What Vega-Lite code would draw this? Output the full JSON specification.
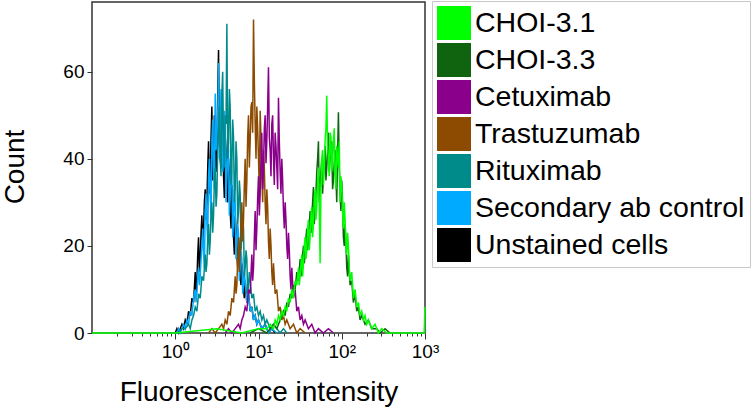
{
"$schema": "https://vega.github.io/schema/vega-lite/v6.json",
"width": 333, "height": 331,
"autosize": "none",
"padding": {"left": 92, "top": 2, "right": 331, "bottom": 77},
"background": "white",
"config": {"view": {"stroke": "#333333", "strokeWidth": 1.5}, "font": "Liberation Sans"},
"data": {"values": [
{"s":"Unstained cells","x":1.000,"y":0},{"s":"Unstained cells","x":1.047,"y":1},{"s":"Unstained cells","x":1.096,"y":0},{"s":"Unstained cells","x":1.148,"y":1},{"s":"Unstained cells","x":1.202,"y":2},{"s":"Unstained cells","x":1.259,"y":1},{"s":"Unstained cells","x":1.318,"y":3},{"s":"Unstained cells","x":1.380,"y":2},{"s":"Unstained cells","x":1.445,"y":5},{"s":"Unstained cells","x":1.514,"y":4},{"s":"Unstained cells","x":1.585,"y":8},{"s":"Unstained cells","x":1.660,"y":7},{"s":"Unstained cells","x":1.738,"y":14},{"s":"Unstained cells","x":1.820,"y":12},{"s":"Unstained cells","x":1.905,"y":22},{"s":"Unstained cells","x":1.995,"y":17},{"s":"Unstained cells","x":2.089,"y":27},{"s":"Unstained cells","x":2.188,"y":24},{"s":"Unstained cells","x":2.291,"y":33},{"s":"Unstained cells","x":2.399,"y":30},{"s":"Unstained cells","x":2.512,"y":44},{"s":"Unstained cells","x":2.630,"y":36},{"s":"Unstained cells","x":2.754,"y":52},{"s":"Unstained cells","x":2.884,"y":38},{"s":"Unstained cells","x":3.020,"y":48},{"s":"Unstained cells","x":3.162,"y":42},{"s":"Unstained cells","x":3.311,"y":65},{"s":"Unstained cells","x":3.467,"y":40},{"s":"Unstained cells","x":3.631,"y":50},{"s":"Unstained cells","x":3.802,"y":36},{"s":"Unstained cells","x":3.981,"y":45},{"s":"Unstained cells","x":4.169,"y":33},{"s":"Unstained cells","x":4.365,"y":40},{"s":"Unstained cells","x":4.571,"y":28},{"s":"Unstained cells","x":4.786,"y":34},{"s":"Unstained cells","x":5.012,"y":22},{"s":"Unstained cells","x":5.248,"y":27},{"s":"Unstained cells","x":5.495,"y":18},{"s":"Unstained cells","x":5.754,"y":22},{"s":"Unstained cells","x":6.026,"y":13},{"s":"Unstained cells","x":6.310,"y":16},{"s":"Unstained cells","x":6.607,"y":10},{"s":"Unstained cells","x":6.918,"y":12},{"s":"Unstained cells","x":7.244,"y":7},{"s":"Unstained cells","x":7.586,"y":9},{"s":"Unstained cells","x":7.943,"y":5},{"s":"Unstained cells","x":8.318,"y":6},{"s":"Unstained cells","x":8.710,"y":3},{"s":"Unstained cells","x":9.120,"y":4},{"s":"Unstained cells","x":9.550,"y":2},{"s":"Unstained cells","x":10.0,"y":3},{"s":"Unstained cells","x":10.96,"y":1},{"s":"Unstained cells","x":12.02,"y":2},{"s":"Unstained cells","x":13.18,"y":0},{"s":"Unstained cells","x":14.45,"y":1},{"s":"Unstained cells","x":15.85,"y":0},
{"s":"Unstained cells","x":1.778,"y":9},{"s":"Unstained cells","x":1.862,"y":18},{"s":"Unstained cells","x":1.950,"y":14},{"s":"Unstained cells","x":2.042,"y":23},{"s":"Unstained cells","x":2.138,"y":20},{"s":"Unstained cells","x":2.239,"y":30},{"s":"Unstained cells","x":2.344,"y":26},{"s":"Unstained cells","x":2.455,"y":38},{"s":"Unstained cells","x":2.570,"y":32},{"s":"Unstained cells","x":2.692,"y":45},{"s":"Unstained cells","x":2.818,"y":35},{"s":"Unstained cells","x":2.951,"y":50},{"s":"Unstained cells","x":3.090,"y":37},{"s":"Unstained cells","x":3.236,"y":55},{"s":"Unstained cells","x":3.388,"y":44},{"s":"Unstained cells","x":3.548,"y":38},{"s":"Unstained cells","x":3.715,"y":46},{"s":"Unstained cells","x":3.890,"y":31},{"s":"Unstained cells","x":4.074,"y":42},{"s":"Unstained cells","x":4.266,"y":30},{"s":"Unstained cells","x":4.467,"y":36},{"s":"Unstained cells","x":4.677,"y":24},{"s":"Unstained cells","x":4.898,"y":30},{"s":"Unstained cells","x":5.129,"y":18},{"s":"Unstained cells","x":5.370,"y":24},{"s":"Unstained cells","x":5.623,"y":15},{"s":"Unstained cells","x":5.888,"y":19},{"s":"Unstained cells","x":6.166,"y":11},{"s":"Unstained cells","x":6.457,"y":14},{"s":"Unstained cells","x":6.761,"y":8},
{"s":"Secondary ab control","x":1.000,"y":0},{"s":"Secondary ab control","x":1.047,"y":0},{"s":"Secondary ab control","x":1.096,"y":1},{"s":"Secondary ab control","x":1.148,"y":0},{"s":"Secondary ab control","x":1.202,"y":1},{"s":"Secondary ab control","x":1.259,"y":2},{"s":"Secondary ab control","x":1.318,"y":1},{"s":"Secondary ab control","x":1.380,"y":3},{"s":"Secondary ab control","x":1.445,"y":2},{"s":"Secondary ab control","x":1.514,"y":5},{"s":"Secondary ab control","x":1.585,"y":4},{"s":"Secondary ab control","x":1.660,"y":8},{"s":"Secondary ab control","x":1.738,"y":10},{"s":"Secondary ab control","x":1.820,"y":9},{"s":"Secondary ab control","x":1.905,"y":15},{"s":"Secondary ab control","x":1.995,"y":13},{"s":"Secondary ab control","x":2.089,"y":20},{"s":"Secondary ab control","x":2.188,"y":18},{"s":"Secondary ab control","x":2.291,"y":28},{"s":"Secondary ab control","x":2.399,"y":25},{"s":"Secondary ab control","x":2.512,"y":36},{"s":"Secondary ab control","x":2.630,"y":31},{"s":"Secondary ab control","x":2.754,"y":44},{"s":"Secondary ab control","x":2.884,"y":38},{"s":"Secondary ab control","x":3.020,"y":55},{"s":"Secondary ab control","x":3.162,"y":45},{"s":"Secondary ab control","x":3.311,"y":62},{"s":"Secondary ab control","x":3.467,"y":47},{"s":"Secondary ab control","x":3.631,"y":52},{"s":"Secondary ab control","x":3.802,"y":40},{"s":"Secondary ab control","x":3.981,"y":47},{"s":"Secondary ab control","x":4.169,"y":36},{"s":"Secondary ab control","x":4.365,"y":42},{"s":"Secondary ab control","x":4.571,"y":32},{"s":"Secondary ab control","x":4.786,"y":37},{"s":"Secondary ab control","x":5.012,"y":26},{"s":"Secondary ab control","x":5.248,"y":30},{"s":"Secondary ab control","x":5.495,"y":20},{"s":"Secondary ab control","x":5.754,"y":23},{"s":"Secondary ab control","x":6.026,"y":15},{"s":"Secondary ab control","x":6.310,"y":17},{"s":"Secondary ab control","x":6.607,"y":11},{"s":"Secondary ab control","x":6.918,"y":12},{"s":"Secondary ab control","x":7.244,"y":7},{"s":"Secondary ab control","x":7.586,"y":9},{"s":"Secondary ab control","x":7.943,"y":5},{"s":"Secondary ab control","x":8.318,"y":6},{"s":"Secondary ab control","x":8.710,"y":3},{"s":"Secondary ab control","x":9.120,"y":4},{"s":"Secondary ab control","x":9.550,"y":2},{"s":"Secondary ab control","x":10.0,"y":3},{"s":"Secondary ab control","x":10.96,"y":1},{"s":"Secondary ab control","x":12.02,"y":2},{"s":"Secondary ab control","x":13.18,"y":0},{"s":"Secondary ab control","x":14.45,"y":1},{"s":"Secondary ab control","x":16.60,"y":0},
{"s":"Secondary ab control","x":1.778,"y":7},{"s":"Secondary ab control","x":1.862,"y":13},{"s":"Secondary ab control","x":1.950,"y":11},{"s":"Secondary ab control","x":2.042,"y":17},{"s":"Secondary ab control","x":2.138,"y":24},{"s":"Secondary ab control","x":2.239,"y":15},{"s":"Secondary ab control","x":2.344,"y":32},{"s":"Secondary ab control","x":2.455,"y":21},{"s":"Secondary ab control","x":2.570,"y":40},{"s":"Secondary ab control","x":2.692,"y":27},{"s":"Secondary ab control","x":2.818,"y":49},{"s":"Secondary ab control","x":2.951,"y":33},{"s":"Secondary ab control","x":3.090,"y":42},{"s":"Secondary ab control","x":3.236,"y":50},{"s":"Secondary ab control","x":3.388,"y":40},{"s":"Secondary ab control","x":3.548,"y":56},{"s":"Secondary ab control","x":3.715,"y":37},{"s":"Secondary ab control","x":3.890,"y":51},{"s":"Secondary ab control","x":4.074,"y":30},{"s":"Secondary ab control","x":4.266,"y":45},{"s":"Secondary ab control","x":4.467,"y":27},{"s":"Secondary ab control","x":4.677,"y":40},{"s":"Secondary ab control","x":4.898,"y":22},{"s":"Secondary ab control","x":5.129,"y":33},{"s":"Secondary ab control","x":5.370,"y":17},{"s":"Secondary ab control","x":5.623,"y":25},{"s":"Secondary ab control","x":5.888,"y":12},{"s":"Secondary ab control","x":6.166,"y":19},{"s":"Secondary ab control","x":6.457,"y":9},{"s":"Secondary ab control","x":6.761,"y":14},
{"s":"Rituximab","x":1.000,"y":0},{"s":"Rituximab","x":1.096,"y":0},{"s":"Rituximab","x":1.202,"y":1},{"s":"Rituximab","x":1.318,"y":1},{"s":"Rituximab","x":1.445,"y":2},{"s":"Rituximab","x":1.514,"y":1},{"s":"Rituximab","x":1.585,"y":3},{"s":"Rituximab","x":1.660,"y":4},{"s":"Rituximab","x":1.738,"y":6},{"s":"Rituximab","x":1.820,"y":5},{"s":"Rituximab","x":1.905,"y":9},{"s":"Rituximab","x":1.995,"y":8},{"s":"Rituximab","x":2.089,"y":13},{"s":"Rituximab","x":2.188,"y":12},{"s":"Rituximab","x":2.291,"y":18},{"s":"Rituximab","x":2.399,"y":16},{"s":"Rituximab","x":2.512,"y":25},{"s":"Rituximab","x":2.630,"y":21},{"s":"Rituximab","x":2.754,"y":30},{"s":"Rituximab","x":2.884,"y":27},{"s":"Rituximab","x":3.020,"y":38},{"s":"Rituximab","x":3.162,"y":32},{"s":"Rituximab","x":3.311,"y":46},{"s":"Rituximab","x":3.467,"y":40},{"s":"Rituximab","x":3.631,"y":55},{"s":"Rituximab","x":3.802,"y":43},{"s":"Rituximab","x":3.981,"y":50},{"s":"Rituximab","x":4.169,"y":71},{"s":"Rituximab","x":4.365,"y":44},{"s":"Rituximab","x":4.571,"y":52},{"s":"Rituximab","x":4.786,"y":38},{"s":"Rituximab","x":5.012,"y":45},{"s":"Rituximab","x":5.248,"y":33},{"s":"Rituximab","x":5.495,"y":40},{"s":"Rituximab","x":5.754,"y":28},{"s":"Rituximab","x":6.026,"y":32},{"s":"Rituximab","x":6.310,"y":22},{"s":"Rituximab","x":6.607,"y":24},{"s":"Rituximab","x":6.918,"y":15},{"s":"Rituximab","x":7.244,"y":17},{"s":"Rituximab","x":7.586,"y":11},{"s":"Rituximab","x":7.943,"y":12},{"s":"Rituximab","x":8.318,"y":8},{"s":"Rituximab","x":8.710,"y":9},{"s":"Rituximab","x":9.120,"y":5},{"s":"Rituximab","x":9.550,"y":6},{"s":"Rituximab","x":10.0,"y":4},{"s":"Rituximab","x":10.47,"y":5},{"s":"Rituximab","x":10.96,"y":3},{"s":"Rituximab","x":11.48,"y":4},{"s":"Rituximab","x":12.02,"y":2},{"s":"Rituximab","x":12.59,"y":3},{"s":"Rituximab","x":13.80,"y":1},{"s":"Rituximab","x":15.14,"y":2},{"s":"Rituximab","x":16.60,"y":1},{"s":"Rituximab","x":18.20,"y":0},{"s":"Rituximab","x":19.95,"y":1},{"s":"Rituximab","x":21.88,"y":0},
{"s":"Rituximab","x":2.344,"y":14},{"s":"Rituximab","x":2.455,"y":22},{"s":"Rituximab","x":2.570,"y":18},{"s":"Rituximab","x":2.692,"y":28},{"s":"Rituximab","x":2.818,"y":23},{"s":"Rituximab","x":2.951,"y":35},{"s":"Rituximab","x":3.090,"y":29},{"s":"Rituximab","x":3.236,"y":42},{"s":"Rituximab","x":3.388,"y":52},{"s":"Rituximab","x":3.548,"y":36},{"s":"Rituximab","x":3.715,"y":60},{"s":"Rituximab","x":3.890,"y":38},{"s":"Rituximab","x":4.074,"y":48},{"s":"Rituximab","x":4.266,"y":40},{"s":"Rituximab","x":4.467,"y":56},{"s":"Rituximab","x":4.677,"y":34},{"s":"Rituximab","x":4.898,"y":49},{"s":"Rituximab","x":5.129,"y":30},{"s":"Rituximab","x":5.370,"y":44},{"s":"Rituximab","x":5.623,"y":25},{"s":"Rituximab","x":5.888,"y":35},{"s":"Rituximab","x":6.166,"y":19},{"s":"Rituximab","x":6.457,"y":27},{"s":"Rituximab","x":6.761,"y":13},{"s":"Rituximab","x":7.079,"y":19},{"s":"Rituximab","x":7.413,"y":9},{"s":"Rituximab","x":7.762,"y":14},
{"s":"Trastuzumab","x":2.512,"y":0},{"s":"Trastuzumab","x":2.754,"y":1},{"s":"Trastuzumab","x":3.020,"y":0},{"s":"Trastuzumab","x":3.311,"y":1},{"s":"Trastuzumab","x":3.631,"y":2},{"s":"Trastuzumab","x":3.802,"y":1},{"s":"Trastuzumab","x":3.981,"y":3},{"s":"Trastuzumab","x":4.169,"y":2},{"s":"Trastuzumab","x":4.365,"y":5},{"s":"Trastuzumab","x":4.571,"y":4},{"s":"Trastuzumab","x":4.786,"y":8},{"s":"Trastuzumab","x":5.012,"y":7},{"s":"Trastuzumab","x":5.248,"y":13},{"s":"Trastuzumab","x":5.495,"y":11},{"s":"Trastuzumab","x":5.754,"y":22},{"s":"Trastuzumab","x":6.026,"y":18},{"s":"Trastuzumab","x":6.310,"y":30},{"s":"Trastuzumab","x":6.607,"y":26},{"s":"Trastuzumab","x":6.918,"y":40},{"s":"Trastuzumab","x":7.244,"y":35},{"s":"Trastuzumab","x":7.586,"y":50},{"s":"Trastuzumab","x":7.943,"y":44},{"s":"Trastuzumab","x":8.318,"y":53},{"s":"Trastuzumab","x":8.710,"y":72},{"s":"Trastuzumab","x":9.120,"y":48},{"s":"Trastuzumab","x":9.550,"y":52},{"s":"Trastuzumab","x":10.0,"y":40},{"s":"Trastuzumab","x":10.47,"y":51},{"s":"Trastuzumab","x":10.96,"y":36},{"s":"Trastuzumab","x":11.48,"y":42},{"s":"Trastuzumab","x":12.02,"y":30},{"s":"Trastuzumab","x":12.59,"y":33},{"s":"Trastuzumab","x":13.18,"y":21},{"s":"Trastuzumab","x":13.80,"y":24},{"s":"Trastuzumab","x":14.45,"y":14},{"s":"Trastuzumab","x":15.14,"y":16},{"s":"Trastuzumab","x":15.85,"y":9},{"s":"Trastuzumab","x":16.60,"y":10},{"s":"Trastuzumab","x":17.38,"y":5},{"s":"Trastuzumab","x":18.20,"y":6},{"s":"Trastuzumab","x":19.05,"y":3},{"s":"Trastuzumab","x":19.95,"y":4},{"s":"Trastuzumab","x":20.89,"y":2},{"s":"Trastuzumab","x":21.88,"y":3},{"s":"Trastuzumab","x":23.99,"y":1},{"s":"Trastuzumab","x":26.30,"y":2},{"s":"Trastuzumab","x":28.84,"y":0},{"s":"Trastuzumab","x":31.62,"y":1},{"s":"Trastuzumab","x":36.31,"y":0},
{"s":"Trastuzumab","x":5.370,"y":9},{"s":"Trastuzumab","x":5.623,"y":17},{"s":"Trastuzumab","x":5.888,"y":14},{"s":"Trastuzumab","x":6.166,"y":25},{"s":"Trastuzumab","x":6.457,"y":21},{"s":"Trastuzumab","x":6.761,"y":34},{"s":"Trastuzumab","x":7.079,"y":29},{"s":"Trastuzumab","x":7.413,"y":45},{"s":"Trastuzumab","x":7.762,"y":38},{"s":"Trastuzumab","x":8.128,"y":52},{"s":"Trastuzumab","x":8.511,"y":46},{"s":"Trastuzumab","x":8.913,"y":58},{"s":"Trastuzumab","x":9.333,"y":40},{"s":"Trastuzumab","x":9.772,"y":47},{"s":"Trastuzumab","x":10.23,"y":33},{"s":"Trastuzumab","x":10.72,"y":45},{"s":"Trastuzumab","x":11.22,"y":30},{"s":"Trastuzumab","x":11.75,"y":38},{"s":"Trastuzumab","x":12.30,"y":25},{"s":"Trastuzumab","x":12.88,"y":29},{"s":"Trastuzumab","x":13.49,"y":17},{"s":"Trastuzumab","x":14.13,"y":20},{"s":"Trastuzumab","x":14.79,"y":11},
{"s":"Cetuximab","x":3.981,"y":0},{"s":"Cetuximab","x":4.365,"y":1},{"s":"Cetuximab","x":4.786,"y":0},{"s":"Cetuximab","x":5.248,"y":1},{"s":"Cetuximab","x":5.754,"y":2},{"s":"Cetuximab","x":6.026,"y":1},{"s":"Cetuximab","x":6.310,"y":3},{"s":"Cetuximab","x":6.607,"y":4},{"s":"Cetuximab","x":6.918,"y":6},{"s":"Cetuximab","x":7.244,"y":5},{"s":"Cetuximab","x":7.586,"y":10},{"s":"Cetuximab","x":7.943,"y":9},{"s":"Cetuximab","x":8.318,"y":18},{"s":"Cetuximab","x":8.710,"y":15},{"s":"Cetuximab","x":9.120,"y":28},{"s":"Cetuximab","x":9.550,"y":24},{"s":"Cetuximab","x":10.0,"y":36},{"s":"Cetuximab","x":10.47,"y":32},{"s":"Cetuximab","x":10.96,"y":46},{"s":"Cetuximab","x":11.48,"y":38},{"s":"Cetuximab","x":12.02,"y":50},{"s":"Cetuximab","x":12.59,"y":44},{"s":"Cetuximab","x":13.18,"y":61},{"s":"Cetuximab","x":13.80,"y":42},{"s":"Cetuximab","x":14.45,"y":48},{"s":"Cetuximab","x":15.14,"y":40},{"s":"Cetuximab","x":15.85,"y":46},{"s":"Cetuximab","x":16.60,"y":38},{"s":"Cetuximab","x":17.38,"y":54},{"s":"Cetuximab","x":18.20,"y":37},{"s":"Cetuximab","x":19.05,"y":40},{"s":"Cetuximab","x":19.95,"y":28},{"s":"Cetuximab","x":20.89,"y":30},{"s":"Cetuximab","x":21.88,"y":20},{"s":"Cetuximab","x":22.91,"y":23},{"s":"Cetuximab","x":23.99,"y":13},{"s":"Cetuximab","x":25.12,"y":15},{"s":"Cetuximab","x":26.30,"y":8},{"s":"Cetuximab","x":27.54,"y":10},{"s":"Cetuximab","x":28.84,"y":5},{"s":"Cetuximab","x":30.20,"y":6},{"s":"Cetuximab","x":31.62,"y":3},{"s":"Cetuximab","x":33.11,"y":4},{"s":"Cetuximab","x":34.67,"y":2},{"s":"Cetuximab","x":36.31,"y":3},{"s":"Cetuximab","x":39.81,"y":1},{"s":"Cetuximab","x":43.65,"y":2},{"s":"Cetuximab","x":47.86,"y":0},{"s":"Cetuximab","x":52.48,"y":1},{"s":"Cetuximab","x":60.26,"y":0},{"s":"Cetuximab","x":69.18,"y":1},{"s":"Cetuximab","x":79.43,"y":0},
{"s":"Cetuximab","x":8.511,"y":12},{"s":"Cetuximab","x":8.913,"y":22},{"s":"Cetuximab","x":9.333,"y":19},{"s":"Cetuximab","x":9.772,"y":31},{"s":"Cetuximab","x":10.23,"y":27},{"s":"Cetuximab","x":10.72,"y":40},{"s":"Cetuximab","x":11.22,"y":33},{"s":"Cetuximab","x":11.75,"y":47},{"s":"Cetuximab","x":12.30,"y":39},{"s":"Cetuximab","x":12.88,"y":52},{"s":"Cetuximab","x":13.49,"y":45},{"s":"Cetuximab","x":14.13,"y":36},{"s":"Cetuximab","x":14.79,"y":50},{"s":"Cetuximab","x":15.49,"y":34},{"s":"Cetuximab","x":16.22,"y":43},{"s":"Cetuximab","x":16.98,"y":33},{"s":"Cetuximab","x":17.78,"y":44},{"s":"Cetuximab","x":18.62,"y":32},{"s":"Cetuximab","x":19.50,"y":35},{"s":"Cetuximab","x":20.42,"y":24},{"s":"Cetuximab","x":21.38,"y":26},{"s":"Cetuximab","x":22.39,"y":17},{"s":"Cetuximab","x":23.44,"y":19},{"s":"Cetuximab","x":24.55,"y":10},
{"s":"CHOI-3.3","x":7.943,"y":0},{"s":"CHOI-3.3","x":10.0,"y":1},{"s":"CHOI-3.3","x":12.59,"y":0},{"s":"CHOI-3.3","x":13.80,"y":1},{"s":"CHOI-3.3","x":15.14,"y":2},{"s":"CHOI-3.3","x":16.60,"y":1},{"s":"CHOI-3.3","x":18.20,"y":3},{"s":"CHOI-3.3","x":19.95,"y":5},{"s":"CHOI-3.3","x":20.89,"y":4},{"s":"CHOI-3.3","x":21.88,"y":7},{"s":"CHOI-3.3","x":22.91,"y":6},{"s":"CHOI-3.3","x":23.99,"y":9},{"s":"CHOI-3.3","x":25.12,"y":8},{"s":"CHOI-3.3","x":26.30,"y":11},{"s":"CHOI-3.3","x":27.54,"y":10},{"s":"CHOI-3.3","x":28.84,"y":14},{"s":"CHOI-3.3","x":30.20,"y":12},{"s":"CHOI-3.3","x":31.62,"y":17},{"s":"CHOI-3.3","x":33.11,"y":15},{"s":"CHOI-3.3","x":34.67,"y":20},{"s":"CHOI-3.3","x":36.31,"y":18},{"s":"CHOI-3.3","x":38.02,"y":24},{"s":"CHOI-3.3","x":39.81,"y":21},{"s":"CHOI-3.3","x":41.69,"y":28},{"s":"CHOI-3.3","x":43.65,"y":26},{"s":"CHOI-3.3","x":45.71,"y":33.5},{"s":"CHOI-3.3","x":47.86,"y":28},{"s":"CHOI-3.3","x":50.12,"y":37},{"s":"CHOI-3.3","x":52.48,"y":44},{"s":"CHOI-3.3","x":54.95,"y":34},{"s":"CHOI-3.3","x":57.54,"y":40},{"s":"CHOI-3.3","x":60.26,"y":36},{"s":"CHOI-3.3","x":63.10,"y":43},{"s":"CHOI-3.3","x":66.07,"y":38},{"s":"CHOI-3.3","x":69.18,"y":46},{"s":"CHOI-3.3","x":72.44,"y":40},{"s":"CHOI-3.3","x":75.86,"y":44},{"s":"CHOI-3.3","x":79.43,"y":35},{"s":"CHOI-3.3","x":83.18,"y":42},{"s":"CHOI-3.3","x":87.10,"y":30},{"s":"CHOI-3.3","x":91.20,"y":50.7},{"s":"CHOI-3.3","x":95.50,"y":32},{"s":"CHOI-3.3","x":100,"y":35},{"s":"CHOI-3.3","x":104.7,"y":22},{"s":"CHOI-3.3","x":109.6,"y":25},{"s":"CHOI-3.3","x":114.8,"y":15},{"s":"CHOI-3.3","x":120.2,"y":18},{"s":"CHOI-3.3","x":125.9,"y":11},{"s":"CHOI-3.3","x":131.8,"y":12},{"s":"CHOI-3.3","x":138.0,"y":7},{"s":"CHOI-3.3","x":144.5,"y":9},{"s":"CHOI-3.3","x":151.4,"y":5},{"s":"CHOI-3.3","x":158.5,"y":6},{"s":"CHOI-3.3","x":166.0,"y":3},{"s":"CHOI-3.3","x":173.8,"y":4},{"s":"CHOI-3.3","x":190.5,"y":2},{"s":"CHOI-3.3","x":208.9,"y":3},{"s":"CHOI-3.3","x":229.1,"y":1},{"s":"CHOI-3.3","x":263.0,"y":1},{"s":"CHOI-3.3","x":288.4,"y":0},{"s":"CHOI-3.3","x":331.1,"y":1},{"s":"CHOI-3.3","x":380.2,"y":0},
{"s":"CHOI-3.3","x":32.36,"y":13},{"s":"CHOI-3.3","x":33.88,"y":18},{"s":"CHOI-3.3","x":35.48,"y":16},{"s":"CHOI-3.3","x":37.15,"y":22},{"s":"CHOI-3.3","x":38.90,"y":19},{"s":"CHOI-3.3","x":40.74,"y":25},{"s":"CHOI-3.3","x":42.66,"y":23},{"s":"CHOI-3.3","x":44.67,"y":30},{"s":"CHOI-3.3","x":46.77,"y":25},{"s":"CHOI-3.3","x":48.98,"y":32},{"s":"CHOI-3.3","x":51.29,"y":40},{"s":"CHOI-3.3","x":53.70,"y":30},{"s":"CHOI-3.3","x":56.23,"y":37},{"s":"CHOI-3.3","x":58.88,"y":32},{"s":"CHOI-3.3","x":61.66,"y":39},{"s":"CHOI-3.3","x":64.57,"y":35},{"s":"CHOI-3.3","x":67.61,"y":42},{"s":"CHOI-3.3","x":70.79,"y":37},{"s":"CHOI-3.3","x":74.13,"y":41},{"s":"CHOI-3.3","x":77.62,"y":33},{"s":"CHOI-3.3","x":81.28,"y":39},{"s":"CHOI-3.3","x":85.11,"y":36},{"s":"CHOI-3.3","x":89.13,"y":41},{"s":"CHOI-3.3","x":93.33,"y":38},{"s":"CHOI-3.3","x":97.72,"y":28},{"s":"CHOI-3.3","x":102.3,"y":30},{"s":"CHOI-3.3","x":107.2,"y":20},{"s":"CHOI-3.3","x":112.2,"y":21},{"s":"CHOI-3.3","x":117.5,"y":13},
{"s":"CHOI-3.1","x":0.1,"y":0},{"s":"CHOI-3.1","x":0.3162,"y":0},{"s":"CHOI-3.1","x":1.0,"y":0},{"s":"CHOI-3.1","x":3.162,"y":1},{"s":"CHOI-3.1","x":6.310,"y":0},{"s":"CHOI-3.1","x":10.0,"y":1},{"s":"CHOI-3.1","x":12.59,"y":1},{"s":"CHOI-3.1","x":13.80,"y":2},{"s":"CHOI-3.1","x":15.14,"y":1},{"s":"CHOI-3.1","x":15.85,"y":3},{"s":"CHOI-3.1","x":16.60,"y":2},{"s":"CHOI-3.1","x":17.38,"y":4},{"s":"CHOI-3.1","x":18.20,"y":3},{"s":"CHOI-3.1","x":19.05,"y":5},{"s":"CHOI-3.1","x":19.95,"y":4},{"s":"CHOI-3.1","x":20.89,"y":6},{"s":"CHOI-3.1","x":21.88,"y":5},{"s":"CHOI-3.1","x":22.91,"y":8},{"s":"CHOI-3.1","x":23.99,"y":7},{"s":"CHOI-3.1","x":25.12,"y":10},{"s":"CHOI-3.1","x":26.30,"y":8},{"s":"CHOI-3.1","x":27.54,"y":12},{"s":"CHOI-3.1","x":28.84,"y":11},{"s":"CHOI-3.1","x":30.20,"y":15},{"s":"CHOI-3.1","x":31.62,"y":13},{"s":"CHOI-3.1","x":33.11,"y":18},{"s":"CHOI-3.1","x":34.67,"y":16},{"s":"CHOI-3.1","x":36.31,"y":22},{"s":"CHOI-3.1","x":38.02,"y":19},{"s":"CHOI-3.1","x":39.81,"y":26},{"s":"CHOI-3.1","x":41.69,"y":22},{"s":"CHOI-3.1","x":43.65,"y":29},{"s":"CHOI-3.1","x":45.71,"y":25},{"s":"CHOI-3.1","x":47.86,"y":33},{"s":"CHOI-3.1","x":50.12,"y":29},{"s":"CHOI-3.1","x":52.48,"y":38},{"s":"CHOI-3.1","x":54.95,"y":16},{"s":"CHOI-3.1","x":57.54,"y":40},{"s":"CHOI-3.1","x":60.26,"y":34},{"s":"CHOI-3.1","x":63.10,"y":44},{"s":"CHOI-3.1","x":66.07,"y":54.5},{"s":"CHOI-3.1","x":69.18,"y":40},{"s":"CHOI-3.1","x":72.44,"y":46},{"s":"CHOI-3.1","x":75.86,"y":37},{"s":"CHOI-3.1","x":79.43,"y":44},{"s":"CHOI-3.1","x":83.18,"y":36},{"s":"CHOI-3.1","x":87.10,"y":43},{"s":"CHOI-3.1","x":91.20,"y":38},{"s":"CHOI-3.1","x":95.50,"y":30},{"s":"CHOI-3.1","x":100,"y":34},{"s":"CHOI-3.1","x":104.7,"y":24},{"s":"CHOI-3.1","x":109.6,"y":26},{"s":"CHOI-3.1","x":114.8,"y":18},{"s":"CHOI-3.1","x":120.2,"y":20},{"s":"CHOI-3.1","x":125.9,"y":12},{"s":"CHOI-3.1","x":131.8,"y":14},{"s":"CHOI-3.1","x":138.0,"y":8},{"s":"CHOI-3.1","x":144.5,"y":10},{"s":"CHOI-3.1","x":151.4,"y":6},{"s":"CHOI-3.1","x":158.5,"y":7},{"s":"CHOI-3.1","x":166.0,"y":4},{"s":"CHOI-3.1","x":173.8,"y":5},{"s":"CHOI-3.1","x":182.0,"y":3},{"s":"CHOI-3.1","x":190.5,"y":4},{"s":"CHOI-3.1","x":199.5,"y":2},{"s":"CHOI-3.1","x":208.9,"y":3},{"s":"CHOI-3.1","x":229.1,"y":1},{"s":"CHOI-3.1","x":251.2,"y":2},{"s":"CHOI-3.1","x":275.4,"y":0},{"s":"CHOI-3.1","x":302.0,"y":1},{"s":"CHOI-3.1","x":346.7,"y":0},{"s":"CHOI-3.1","x":501.2,"y":0},{"s":"CHOI-3.1","x":977.2,"y":0},{"s":"CHOI-3.1","x":1000,"y":6},
{"s":"CHOI-3.1","x":30.90,"y":11},{"s":"CHOI-3.1","x":32.36,"y":16},{"s":"CHOI-3.1","x":33.88,"y":13},{"s":"CHOI-3.1","x":35.48,"y":20},{"s":"CHOI-3.1","x":37.15,"y":17},{"s":"CHOI-3.1","x":38.90,"y":24},{"s":"CHOI-3.1","x":40.74,"y":19},{"s":"CHOI-3.1","x":42.66,"y":27},{"s":"CHOI-3.1","x":44.67,"y":22},{"s":"CHOI-3.1","x":46.77,"y":31},{"s":"CHOI-3.1","x":48.98,"y":26},{"s":"CHOI-3.1","x":51.29,"y":35},{"s":"CHOI-3.1","x":53.70,"y":30},{"s":"CHOI-3.1","x":56.23,"y":33},{"s":"CHOI-3.1","x":58.88,"y":42},{"s":"CHOI-3.1","x":61.66,"y":38},{"s":"CHOI-3.1","x":64.57,"y":47},{"s":"CHOI-3.1","x":67.61,"y":43},{"s":"CHOI-3.1","x":70.79,"y":36},{"s":"CHOI-3.1","x":74.13,"y":45},{"s":"CHOI-3.1","x":77.62,"y":39},{"s":"CHOI-3.1","x":81.28,"y":47},{"s":"CHOI-3.1","x":85.11,"y":33},{"s":"CHOI-3.1","x":89.13,"y":40},{"s":"CHOI-3.1","x":93.33,"y":44},{"s":"CHOI-3.1","x":97.72,"y":36},{"s":"CHOI-3.1","x":102.3,"y":28},{"s":"CHOI-3.1","x":107.2,"y":30},{"s":"CHOI-3.1","x":112.2,"y":21},{"s":"CHOI-3.1","x":117.5,"y":23},{"s":"CHOI-3.1","x":123.0,"y":15}
]},
"mark": {"type": "line", "strokeWidth": 1.5},
"encoding": {
  "x": {"field": "x", "type": "quantitative",
    "scale": {"type": "log", "domain": [0.1, 1000], "nice": false},
    "axis": {"title": "Fluorescence intensity",
      "values": [0.2,0.3,0.4,0.5,0.6,0.7,0.8,0.9,1,2,3,4,5,6,7,8,9,10,20,30,40,50,60,70,80,90,100,200,300,400,500,600,700,800,900,1000],
      "labelExpr": "datum.value == 1 ? '10⁰' : datum.value == 10 ? '10¹' : datum.value == 100 ? '10²' : datum.value == 1000 ? '10³' : ''",
      "tickSize": {"condition": {"test": "datum.value == 1 || datum.value == 10 || datum.value == 100 || datum.value == 1000", "value": 6}, "value": 3},
      "tickColor": "#333333", "domain": false, "grid": false,
      "labelFontSize": 19, "labelColor": "black", "labelPadding": 3, "labelFlush": false, "labelOverlap": false, "labelBound": false,
      "titleFontSize": 28, "titleFontWeight": "normal", "titleColor": "black",
      "titleX": 166.5, "titleY": 67, "titleBaseline": "alphabetic", "titleAlign": "center"}},
  "y": {"field": "y", "type": "quantitative",
    "scale": {"domain": [0, 76], "nice": false},
    "axis": {"title": "Count", "values": [0, 20, 40, 60],
      "tickSize": 5, "tickColor": "#333333", "domain": false, "grid": false,
      "labelFontSize": 19, "labelColor": "black", "labelPadding": 3,
      "titleFontSize": 28, "titleFontWeight": "normal", "titleColor": "black",
      "titleX": -69, "titleY": 164.5, "titleAngle": 270, "titleBaseline": "alphabetic", "titleAlign": "center"}},
  "color": {"field": "s", "type": "nominal",
    "scale": {"domain": ["CHOI-3.1", "CHOI-3.3", "Cetuximab", "Trastuzumab", "Rituximab", "Secondary ab control", "Unstained cells"],
      "range": ["#00FF00", "#106410", "#8B008B", "#8C4B00", "#008B8B", "#00AAFF", "#000000"]},
    "legend": {"title": null, "orient": "none", "legendX": 340, "legendY": -1,
      "symbolType": "square", "symbolSize": 1156, "symbolStrokeWidth": 0,
      "labelFontSize": 28.5, "labelColor": "black", "labelOffset": 4, "labelLimit": 400,
      "rowPadding": 3, "padding": 5, "strokeColor": "#c8c8c8", "fillColor": "white",
      "encode": {"symbols": {"update": {"fill": {"scale": "color", "field": "value"}, "fillOpacity": {"value": 1}, "stroke": {"value": "transparent"}}}}}}
}
}
